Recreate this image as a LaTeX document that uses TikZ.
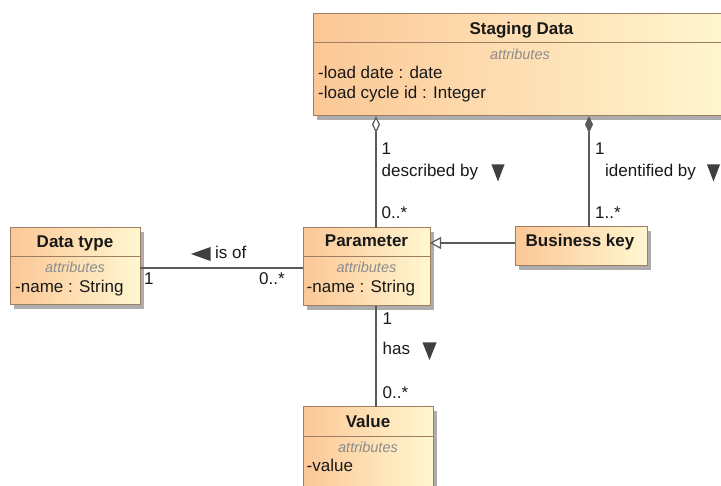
\documentclass[tikz,border=0pt]{standalone}
\usepackage{fontspec}
\setmainfont{Liberation Sans}
\usetikzlibrary{arrows.meta,shadows}

\definecolor{boxL}{RGB}{252,199,150}
\definecolor{boxR}{RGB}{255,247,208}
\definecolor{boxline}{RGB}{158,126,98}
\definecolor{txt}{RGB}{25,25,25}
\definecolor{attr}{RGB}{140,140,140}
\definecolor{conline}{RGB}{90,90,90}
\definecolor{dirmark}{RGB}{64,64,64}

\tikzset{
  classbox/.style={draw=boxline, line width=1pt, left color=boxL, right color=boxR,
    anchor=north west, inner sep=0pt, outer sep=0pt,
    drop shadow={shadow xshift=4pt, shadow yshift=-4pt, fill=black!32, opacity=1}},
  divider/.style={draw=boxline, line width=1pt},
  cname/.style={inner sep=0pt, anchor=base, text=txt, font=\bfseries\fontsize{17}{20}\selectfont},
  cattr/.style={inner sep=0pt, anchor=base, text=attr, font=\itshape\fontsize{14.5}{17}\selectfont},
  cfield/.style={inner sep=0pt, anchor=base west, text=txt, font=\fontsize{17}{20}\selectfont},
  elabel/.style={inner sep=0pt, anchor=base west, text=txt, font=\fontsize{17}{20}\selectfont},
  conn/.style={draw=conline, line width=1.2pt},
  dirtri/.style={fill=dirmark},
}

\begin{document}
\begin{tikzpicture}[x=1pt,y=-1pt]
\useasboundingbox (0,0) rectangle (721,486);
\clip (0,0) rectangle (721,486);
\fill[white] (0,0) rectangle (721,486);

% ---- classes ----
\node[classbox, minimum width=416pt, minimum height=102pt] (staging) at (313,14) {};
\draw[divider] ([yshift=-29pt]staging.north west) -- ([yshift=-29pt]staging.north east);
\node[cname] (stagingName) at (521.5,35) {Staging Data};
\node[cattr] (stagingAttr) at (520,59.5) {attributes};
\node[cfield] (stagingF1) at (318,79) {-load date : date};
\node[cfield] (stagingF2) at (318,98.5) {-load cycle id : Integer};

\node[classbox, minimum width=130pt, minimum height=77pt] (dt) at (10,228) {};
\draw[divider] ([yshift=-29pt]dt.north west) -- ([yshift=-29pt]dt.north east);
\node[cname] (dtName) at (75,247.3) {Data type};
\node[cattr] (dtAttr) at (75,272.7) {attributes};
\node[cfield] (dtF1) at (15,292.7) {-name : String};

\node[classbox, minimum width=127pt, minimum height=78pt] (param) at (303,228) {};
\draw[divider] ([yshift=-29pt]param.north west) -- ([yshift=-29pt]param.north east);
\node[cname] (paramName) at (366.5,246.7) {Parameter};
\node[cattr] (paramAttr) at (366.5,272.3) {attributes};
\node[cfield] (paramF1) at (306.5,292.7) {-name : String};

\node[classbox, minimum width=132pt, minimum height=39pt] (bk) at (515,227) {};
\node[cname] (bkName) at (580,246.7) {Business key};

\node[classbox, minimum width=130pt, minimum height=84pt] (value) at (303,407) {};
\draw[divider] ([yshift=-30pt]value.north west) -- ([yshift=-30pt]value.north east);
\node[cname] (valueName) at (368,427.3) {Value};
\node[cattr] (valueAttr) at (368,452.3) {attributes};
\node[cfield] (valueF1) at (306.5,471.7) {-value};

% ---- attachment points ----
\coordinate (pTop) at ([xshift=73pt]param.north west);
\coordinate (bkTop) at ([xshift=74pt]bk.north west);
\coordinate (bkW) at ([yshift=-16pt]bk.north west);
\coordinate (dtE) at ([yshift=-40pt]dt.north east);

% ---- connectors ----
\draw[conn, {Diamond[open,length=17pt,width=8pt,fill=white]}-] (pTop |- staging.south) -- (pTop);
\draw[conn, {Diamond[length=17pt,width=8pt]}-] (bkTop |- staging.south) -- (bkTop);
\draw[conn, -{Triangle[open,length=11pt,width=12pt,fill=white]}] (bkW) -- (bkW -| param.east);
\draw[conn] (dtE) -- (dtE -| param.west);
\draw[conn] (param.south -| pTop) -- (value.north -| pTop);

% ---- end and role labels ----
\node[elabel] (l1a) at (381.5,155) {1};
\node[elabel] (l1b) at (381.5,176.7) {described by};
\node[elabel] (l1c) at (381.5,218.3) {0..*};
\fill[dirtri] (491.5,164.5) -- (504.5,164.5) -- (498,181.5) -- cycle;

\node[elabel] (l2a) at (595,155) {1};
\node[elabel] (l2b) at (605,176.7) {identified by};
\node[elabel] (l2c) at (595,218.3) {1..*};
\fill[dirtri] (707,164.5) -- (720,164.5) -- (713.5,181.5) -- cycle;

\node[elabel] (l3a) at (382.5,325) {1};
\node[elabel] (l3b) at (382.5,355) {has};
\node[elabel] (l3c) at (382.5,398.3) {0..*};
\fill[dirtri] (422.5,342.5) -- (436.5,342.5) -- (429.5,360) -- cycle;

\node[elabel] (l4a) at (215,258.3) {is of};
\node[elabel] (l4b) at (144,285) {1};
\node[elabel] (l4c) at (259,285) {0..*};
\fill[dirtri] (210.5,247) -- (210.5,261) -- (191,254) -- cycle;
\end{tikzpicture}
\end{document}
